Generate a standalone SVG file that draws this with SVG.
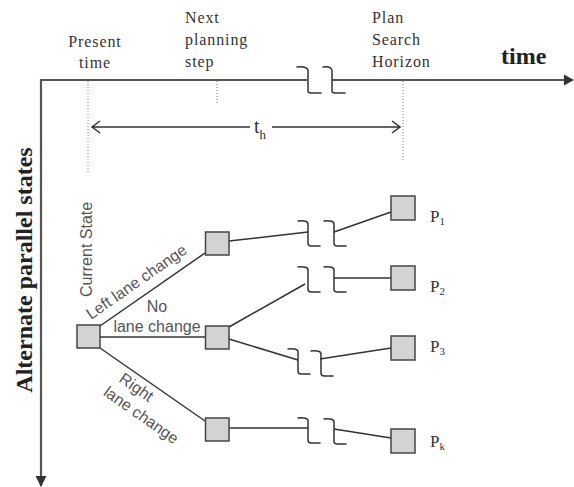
<svg xmlns="http://www.w3.org/2000/svg" width="574" height="487" viewBox="0 0 574 487">
<defs>
<style>
.ser{font-family:"Liberation Serif","Times New Roman",serif;fill:#333;}
.lbl{font-size:16px;letter-spacing:0.9px;}
.bold{font-weight:bold;font-size:24px;fill:#222;}
.sans{font-family:"Liberation Sans",Arial,sans-serif;font-size:16px;fill:#555;}
.axis{stroke:#555;stroke-width:2.2;fill:none;}
.dot{stroke:#777;stroke-width:1;stroke-dasharray:1 2;fill:none;}
.edge{stroke:#333;stroke-width:1.5;fill:none;}
.sq{fill:#d3d3d3;stroke:#444;stroke-width:1.5;}
.brk{stroke:#333;stroke-width:1.5;fill:none;stroke-linecap:round;stroke-linejoin:round;}
</style>
<symbol id="br" overflow="visible">
<path class="brk" d="M-10,0 Q0,-1 0,3 L0,22 Q0,25 3,25 L12,25"/>
</symbol>
</defs>

<g id="axes">
<path class="axis" d="M41,486 L41,80 L307,80 M332,80 L566,80"/>
<polygon points="574,80 564,74.5 564,85.5" fill="#333"/>
<polygon points="41,487 35.5,476 46.5,476" fill="#333"/>
<path class="brk" d="M297,67 Q308,66 308,71 L308,91 Q308,93 311,93 L321,93"/>
<path class="brk" d="M323,67 Q332,66 332,71 L332,91 Q332,93 335,93 L345,93"/>
<text class="ser bold" x="501" y="64">time</text>
<text class="ser bold" transform="translate(32,270) rotate(-90)" text-anchor="middle">Alternate parallel states</text>
</g>

<g id="time-labels">
<text class="ser lbl" x="95" y="47" text-anchor="middle">Present</text>
<text class="ser lbl" x="95" y="68" text-anchor="middle">time</text>
<text class="ser lbl" x="185" y="23">Next</text>
<text class="ser lbl" x="185" y="45">planning</text>
<text class="ser lbl" x="185" y="67">step</text>
<text class="ser lbl" x="372" y="23">Plan</text>
<text class="ser lbl" x="372" y="45">Search</text>
<text class="ser lbl" x="372" y="67">Horizon</text>
<path class="dot" d="M88,81 L88,173 M217,81 L217,103 M403,81 L403,161"/>
</g>

<g id="horizon">
<path class="edge" d="M92,127 L250,127 M272,127 L400,127 M100,121 L92,127 L100,133 M392,121 L400,127 L392,133"/>
<text class="ser" x="254" y="133" font-size="20">t<tspan font-size="13" dy="6">h</tspan></text>
</g>

<g id="connectors">
<path class="edge" d="M100,326 L205,253"/>
<path class="edge" d="M100,337 L205,337"/>
<path class="edge" d="M100,348 L205,421"/>
<path class="edge" d="M229,241 L308,232 M334,232 L391,212"/>
<path class="edge" d="M229,327 L305,284 M334,278 L391,278"/>
<path class="edge" d="M229,339 L298,360 M320,359 L391,348"/>
<path class="edge" d="M229,428 L308,428 M334,429 L391,438"/>
<use href="#br" x="308" y="221"/>
<use href="#br" x="334" y="221"/>
<use href="#br" x="308" y="267"/>
<use href="#br" x="334" y="267"/>
<use href="#br" x="298" y="349"/>
<use href="#br" x="321" y="351"/>
<use href="#br" x="308" y="418"/>
<use href="#br" x="334" y="419"/>
</g>

<g id="edge-labels">
<text class="sans" transform="translate(91,320) rotate(-34.8)">Left lane change</text>
<text class="sans" x="157" y="312" text-anchor="middle">No</text>
<text class="sans" x="157" y="332" text-anchor="middle">lane change</text>
<g transform="translate(118,381) rotate(35)">
<text class="sans" x="0" y="0">Right</text>
<text class="sans" x="-5" y="20">lane change</text>
</g>
</g>

<g id="current-state">
<rect class="sq" x="77" y="325" width="23" height="23"/>
<text class="sans" transform="translate(92,297) rotate(-90)">Current State</text>
</g>
<g id="left-node"><rect class="sq" x="205.5" y="232" width="23.5" height="23"/></g>
<g id="mid-node"><rect class="sq" x="205.5" y="326" width="23.5" height="23"/></g>
<g id="right-node"><rect class="sq" x="205.5" y="418" width="23.5" height="23"/></g>
<g id="p1"><rect class="sq" x="391" y="196" width="24" height="24"/>
<text class="ser" x="430" y="222" font-size="17">P<tspan font-size="11" dy="3">1</tspan></text></g>
<g id="p2"><rect class="sq" x="391" y="266" width="24" height="24"/>
<text class="ser" x="430" y="292" font-size="17">P<tspan font-size="11" dy="3">2</tspan></text></g>
<g id="p3"><rect class="sq" x="391" y="336" width="24" height="24"/>
<text class="ser" x="430" y="352" font-size="17">P<tspan font-size="11" dy="3">3</tspan></text></g>
<g id="pk"><rect class="sq" x="391" y="429" width="24" height="24"/>
<text class="ser" x="430" y="447" font-size="17">P<tspan font-size="11" dy="3">k</tspan></text></g>
</svg>
